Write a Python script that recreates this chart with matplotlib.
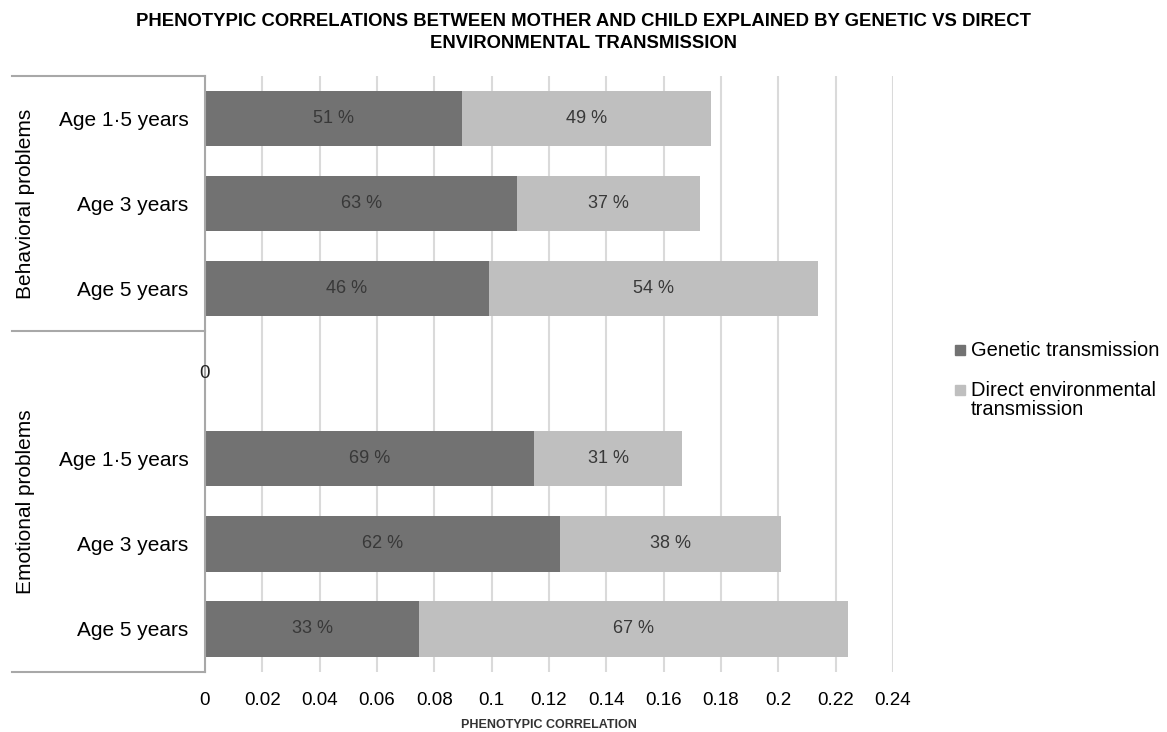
import matplotlib
matplotlib.use("Agg")
import matplotlib.pyplot as plt
from matplotlib.lines import Line2D
from matplotlib.patches import Rectangle
import numpy as np

# values
groups = ["Behavioral problems", "Emotional problems"]
ages = ["Age 1·5 years", "Age 3 years", "Age 5 years"]
genetic = [0.0897, 0.109, 0.0991, 0.1148, 0.1237, 0.0748]
environmental = [0.0869, 0.0637, 0.1146, 0.0516, 0.0773, 0.1495]
genetic_pct = [51, 63, 46, 69, 62, 33]
environmental_pct = [49, 37, 54, 31, 38, 67]
series_names = ["Genetic transmission", "Direct environmental\ntransmission"]
x_ticks = [0, 0.02, 0.04, 0.06, 0.08, 0.1, 0.12, 0.14, 0.16, 0.18, 0.2, 0.22, 0.24]
x_tick_labels = ["0", "0.02", "0.04", "0.06", "0.08", "0.1", "0.12", "0.14",
                 "0.16", "0.18", "0.2", "0.22", "0.24"]
gap_label = "0"

dark = "#727272"
light = "#bfbfbf"
line_col = "#a8a8a8"
sans = ["Liberation Sans", "DejaVu Sans"]

# rows 0..2 behavioral, row 3 empty, rows 4..6 emotional
rows = [0, 1, 2, 4, 5, 6]
row_labels = ages + ages

fig = plt.figure(figsize=(11.67, 7.32), dpi=100)
ax = fig.add_axes([205 / 1167, 1 - 671.5 / 732, (893 - 205) / 1167, (671.5 - 76) / 732])

ax.barh(rows, genetic, height=0.65, color=dark, zorder=2)
ax.barh(rows, environmental, left=genetic, height=0.65, color=light, zorder=2)

for r, g, e, gp, ep in zip(rows, genetic, environmental, genetic_pct, environmental_pct):
    ax.text(g / 2, r, f"{gp} %", ha="center", va="center", fontsize=13,
            color="#383838", family=sans)
    ax.text(g + e / 2, r, f"{ep} %", ha="center", va="center", fontsize=13,
            color="#383838", family=sans)

ax.text(0, 3, gap_label, ha="center", va="center", fontsize=13.5, family=sans,
        color="#222222")

ax.set_xlim(0, 0.24)
ax.set_ylim(6.5, -0.5)
ax.set_xticks(x_ticks)
ax.set_xticklabels(x_tick_labels, family=sans, fontsize=13.5)
ax.set_yticks(rows)
ax.set_yticklabels(row_labels, family=sans, fontsize=15)
ax.tick_params(axis="both", length=0)
ax.tick_params(axis="y", pad=12)
ax.tick_params(axis="x", pad=15)
ax.xaxis.grid(True, color="#dadada", linewidth=1.5, zorder=0)
ax.set_axisbelow(True)
for s in ["top", "right", "bottom"]:
    ax.spines[s].set_visible(False)
ax.spines["left"].set_color(line_col)
ax.spines["left"].set_linewidth(1.5)

ax.set_xlabel("PHENOTYPIC CORRELATION", family=sans, fontsize=9,
              fontweight="bold", color="#333333", labelpad=7)

# group brackets on the left
x0 = (12 - 205) / (893 - 205)
trans = ax.get_yaxis_transform()
for yy in [-0.5, 2.5, 6.5]:
    ax.add_line(Line2D([x0, 0], [yy, yy], transform=trans, color=line_col,
                       linewidth=1.5, clip_on=False))
ax.text(x0 + 0.019, 1, groups[0], rotation=90, ha="center", va="center",
        transform=trans, fontsize=15, family=sans)
ax.text(x0 + 0.019, 4.5, groups[1], rotation=90, ha="center", va="center",
        transform=trans, fontsize=15, family=sans)

fig.suptitle("PHENOTYPIC CORRELATIONS BETWEEN MOTHER AND CHILD EXPLAINED BY GENETIC VS DIRECT\n"
             "ENVIRONMENTAL TRANSMISSION", x=0.5, y=1 - 13 / 732, va="top",
             fontsize=13.3, fontweight="bold", family=sans, linespacing=1.35)

# legend drawn by hand so the marker sits on the first text line
for name, col, yc in zip(series_names, [dark, light], [350, 390]):
    fig.patches.append(Rectangle((955 / 1167, 1 - (yc + 5) / 732), 10 / 1167, 10 / 732,
                                 transform=fig.transFigure, color=col))
    fig.text(971 / 1167, 1 - (yc - 9) / 732, name, ha="left", va="top",
             fontsize=14.5, family=sans, linespacing=1.0)

fig.savefig("out.png", dpi=100)
